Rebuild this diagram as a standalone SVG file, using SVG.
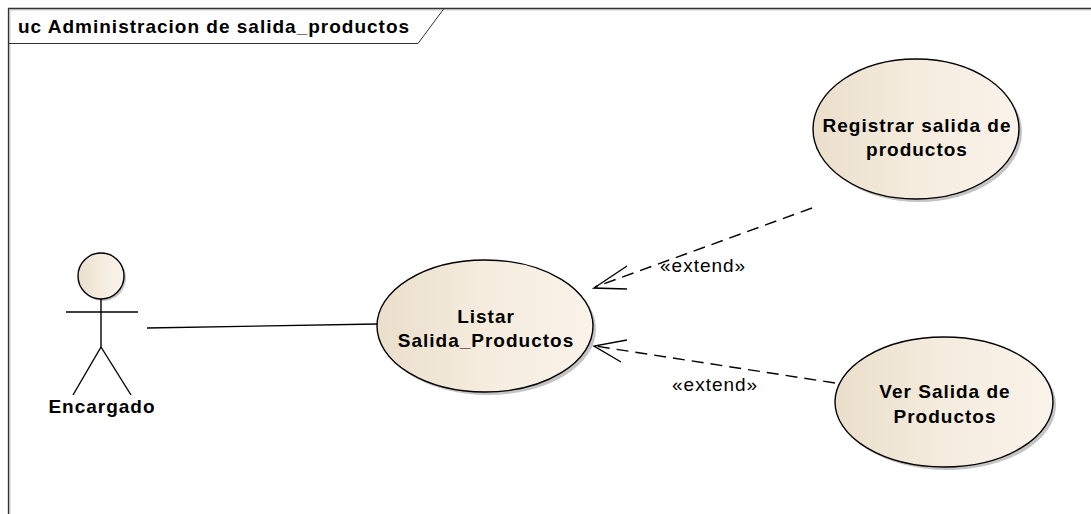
<svg xmlns="http://www.w3.org/2000/svg" width="1091" height="514" viewBox="0 0 1091 514">
<style>
text{font-family:"Liberation Sans",Arial,sans-serif;fill:#000;font-size:19px;letter-spacing:1px}
.b{font-weight:bold}
.uc{stroke:#000;stroke-width:1.4;fill:url(#g)}
.sh{fill:#c4c4c4;stroke:none}
.ln{stroke:#000;stroke-width:1.4;fill:none}
.d{stroke:#000;stroke-width:1.4;fill:none;stroke-dasharray:12,7}
</style>
<defs>
<linearGradient id="g" x1="0" y1="0" x2="1" y2="0">
<stop offset="0" stop-color="#EADFCB"/>
<stop offset="0.5" stop-color="#F5ECDE"/>
<stop offset="1" stop-color="#FAF3EA"/>
</linearGradient>
</defs>
<rect width="1091" height="514" fill="#fff"/>
<g id="frame">
<path d="M8.5,514 V8.5 H1091" fill="none" stroke="#333" stroke-width="1.3"/>
<path d="M9.8,514 V9.8 H1091" fill="none" stroke="#b0b0b0" stroke-width="1"/>
<path d="M8.5,43.5 H418 L444,8.5" fill="none" stroke="#333" stroke-width="1"/>
<text class="b" x="18" y="33">uc Administracion de salida_productos</text>
</g>
<g id="connectors">
<line class="ln" x1="147" y1="328" x2="377" y2="324"/>
<line class="d" x1="812" y1="208" x2="595" y2="287"/>
<polyline class="ln" points="627,266 594,288 627,289"/>
<text x="660" y="272">«extend»</text>
<line class="d" x1="835" y1="383" x2="595" y2="346"/>
<polyline class="ln" points="627,340 594,346 621,362"/>
<text x="672" y="391">«extend»</text>
</g>
<g id="actor-encargado">
<circle cx="103" cy="278" r="23" class="sh"/>
<circle cx="101" cy="276" r="23" class="uc"/>
<line class="ln" x1="101" y1="299" x2="101" y2="347"/>
<line class="ln" x1="66" y1="312" x2="138" y2="312"/>
<line class="ln" x1="101" y1="347" x2="73" y2="395"/>
<line class="ln" x1="101" y1="347" x2="131" y2="395"/>
<text class="b" x="102" y="413" text-anchor="middle">Encargado</text>
</g>
<g id="uc-listar">
<ellipse cx="488" cy="329" rx="108" ry="66" class="sh"/>
<ellipse cx="485" cy="326" rx="108" ry="66" class="uc"/>
<text class="b" x="486" y="323" text-anchor="middle">Listar</text>
<text class="b" x="486" y="347" text-anchor="middle">Salida_Productos</text>
</g>
<g id="uc-registrar">
<ellipse cx="919" cy="132" rx="103" ry="70" class="sh"/>
<ellipse cx="916" cy="129" rx="103" ry="70" class="uc"/>
<text class="b" x="917" y="132" text-anchor="middle">Registrar salida de</text>
<text class="b" x="917" y="156" text-anchor="middle">productos</text>
</g>
<g id="uc-ver">
<ellipse cx="947" cy="405" rx="109" ry="65" class="sh"/>
<ellipse cx="944" cy="402" rx="109" ry="65" class="uc"/>
<text class="b" x="945" y="398" text-anchor="middle">Ver Salida de</text>
<text class="b" x="945" y="423" text-anchor="middle">Productos</text>
</g>
</svg>
